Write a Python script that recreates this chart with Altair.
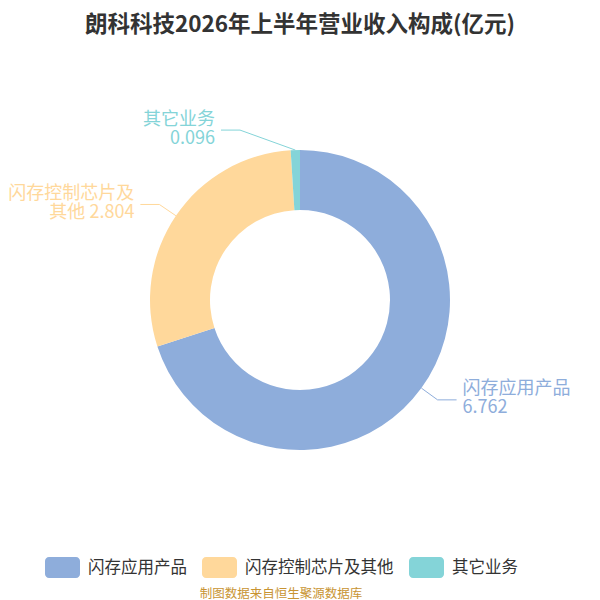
import altair as alt
import pandas as pd

title_text = "朗科科技2026年上半年营业收入构成(亿元)"
names = ["闪存应用产品", "闪存控制芯片及其他", "其它业务"]
values = [6.762, 2.804, 0.096]
label_texts = ["闪存应用产品\n6.762", "闪存控制芯片及\n其他 2.804", "其它业务\n0.096"]
colors = ["#8EADDB", "#FFD89B", "#84D4D8"]
source_text = "制图数据来自恒生聚源数据库"

FONT = "Noto Sans CJK SC"
W, H = 584, 504
CX, CY = W / 2, H / 2
R_IN, R_OUT, R_ELB = 90, 150, 170

df = pd.DataFrame({
    "idx": list(range(len(names))),
    "name": names,
    "value": values,
    "label": label_texts,
})

color_scale = alt.Scale(domain=names, range=colors)

base = alt.Chart(df).transform_joinaggregate(
    total="sum(value)"
).transform_window(
    cum="sum(value)", sort=[alt.SortField("idx")], frame=[None, 0]
).transform_calculate(
    mid="(datum.cum - datum.value/2) / datum.total * 2 * PI",
).transform_calculate(
    s="sin(datum.mid)", c="cos(datum.mid)"
).transform_calculate(
    sg="datum.s < 0 ? -1 : 1",
    x1=f"{CX} + {R_OUT} * datum.s",
    y1=f"{CY} - {R_OUT} * datum.c",
).transform_calculate(
    ex=f"{CX} + datum.sg * max(abs({R_ELB} * datum.s), 60)",
    ey=f"{CY} - {R_ELB} * datum.c",
).transform_calculate(
    hx="datum.ex + datum.sg * 19",
).transform_calculate(
    tx="datum.hx + datum.sg * 6",
)

arc = alt.Chart(df).mark_arc(innerRadius=R_IN, outerRadius=R_OUT).encode(
    theta=alt.Theta("value:Q", stack=True),
    order=alt.Order("idx:Q"),
    color=alt.Color(
        "name:N",
        scale=color_scale,
        sort=names,
        legend=alt.Legend(
            title=None,
            orient="none",
            legendX=37,
            legendY=502,
            direction="horizontal",
            symbolType="M-0.77,-0.6 L0.77,-0.6 A0.23,0.23 0 0 1 1,-0.37 L1,0.37 A0.23,0.23 0 0 1 0.77,0.6 L-0.77,0.6 A0.23,0.23 0 0 1 -1,0.37 L-1,-0.37 A0.23,0.23 0 0 1 -0.77,-0.6 Z",
            symbolSize=1225,
            symbolStrokeWidth=0,
            symbolOpacity=1,
            labelFontSize=16.5,
            labelFont=FONT,
            labelColor="#333333",
            labelOffset=8,
            columnPadding=15,
            padding=0,
            labelLimit=300,
        ),
    ),
)

seg1 = base.mark_rule(strokeWidth=1).encode(
    x=alt.X("x1:Q", scale=None),
    y=alt.Y("y1:Q", scale=None),
    x2="ex:Q",
    y2="ey:Q",
    color=alt.Color("name:N", scale=color_scale, legend=None),
)

seg2 = base.mark_rule(strokeWidth=1).encode(
    x=alt.X("ex:Q", scale=None),
    y=alt.Y("ey:Q", scale=None),
    x2="hx:Q",
    color=alt.Color("name:N", scale=color_scale, legend=None),
)

text_left = base.transform_filter("datum.s < 0").mark_text(
    align="right", baseline="middle", fontSize=18, font=FONT, lineBreak="\n", lineHeight=19, dy=-10.5
).encode(
    x=alt.X("tx:Q", scale=None),
    y=alt.Y("ey:Q", scale=None),
    text="label:N",
    color=alt.Color("name:N", scale=color_scale, legend=None),
)

text_right = base.transform_filter("datum.s >= 0").mark_text(
    align="left", baseline="middle", fontSize=18, font=FONT, lineBreak="\n", lineHeight=19, dy=-10.5
).encode(
    x=alt.X("tx:Q", scale=None),
    y=alt.Y("ey:Q", scale=None),
    text="label:N",
    color=alt.Color("name:N", scale=color_scale, legend=None),
)

source = alt.Chart(pd.DataFrame({"t": [source_text]})).mark_text(
    align="center", baseline="middle", fontSize=12.5, font=FONT, color="#C89432"
).encode(
    x=alt.value(273),
    y=alt.value(546),
    text="t:N",
)

chart = alt.layer(arc, seg1, seg2, text_left, text_right, source).properties(
    width=W,
    height=H,
    title=alt.TitleParams(
        text=title_text,
        fontSize=22.5,
        fontWeight="bold",
        font=FONT,
        color="#333333",
        anchor="middle",
        offset=12,
    ),
    autosize=alt.AutoSizeParams(type="none"),
    padding={"top": 40, "left": 0, "right": 0, "bottom": 48},
).configure_view(stroke=None)

chart.save("out.html", embed_options={"renderer": "svg", "actions": False})
